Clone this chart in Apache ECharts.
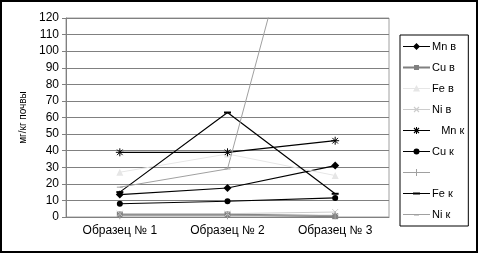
<!DOCTYPE html>
<html>
<head>
<meta charset="utf-8">
<script src="https://cdn.jsdelivr.net/npm/echarts@6/dist/echarts.min.js"></script>
<style>
  html, body { margin: 0; padding: 0; background: #fff; }
  #chart { width: 478px; height: 253px; box-sizing: border-box; border: 2px solid #000; }
</style>
</head>
<body>
<div id="chart"></div>
<script>
// Категории (образцы)
const kategorii = ['Образец № 1', 'Образец № 2', 'Образец № 3'];

// Значения, мг/кг почвы
const mnV = [13.5, 17.5, 31];
const cuV = [1.5, 1.5, 0.5];
const feV = [27, 38, 25];
const niV = [2, 2, 3];
const mnK = [39, 39, 46];
const cuK = [8, 9.5, 11.5];
const bezImeni = [1, 1, 1];
const feK = [15, 63, 14];
const niK = [18, 29, 270];

const chart = echarts.init(document.getElementById('chart'));

// Функция для описания одной линии
function linia(name, data, color, symbol, size, width) {
    return {
        name: name,
        type: 'line',
        data: data,
        symbol: symbol,
        symbolSize: size,
        showSymbol: true,
        clip: true,
        lineStyle: { color: color, width: width || 1 },
        itemStyle: { color: color, borderColor: color, borderWidth: symbol.indexOf('path') === 0 ? 1 : 0 },
        emphasis: { disabled: true },
        z: 3
    };
}

// Иконки легенды: линия + маркер, всё залитыми фигурами (27 x 8)
const ramka = 'M0,0 L0,0 Z M27,8 L27,8 Z ';
const liniya = 'M0,3.5 H27 V4.5 H0 Z ';
const liniyaTolst = 'M0,3 H27 V5 H0 Z ';
const diag1 = 'M10.6,1.9 L11.4,1.1 L16.4,6.1 L15.6,6.9 Z ';
const diag2 = 'M15.6,1.1 L16.4,1.9 L11.4,6.9 L10.6,6.1 Z ';
function ikonka(telo) { return 'path://' + ramka + telo; }

const legendaIkonki = {
    'Mn в': ikonka(liniya + 'M13.5,0.5 L17,4 L13.5,7.5 L10,4 Z'),
    'Cu в': ikonka(liniyaTolst + 'M11,1.5 H16 V6.5 H11 Z'),
    'Fe в': ikonka(liniya + 'M13.5,0.5 L17,7 L10,7 Z'),
    'Ni в': ikonka(liniya + diag1 + diag2),
    '   Mn к': ikonka(liniya + 'M13,0.5 H14 V7.5 H13 Z ' + diag1 + diag2),
    'Cu к': ikonka(liniya + 'M16.5,4 A3,3 0 1 1 10.5,4 A3,3 0 1 1 16.5,4 Z'),
    ' ': ikonka(liniya + 'M13,0.5 H14 V7.5 H13 Z'),
    'Fe к': ikonka(liniya + 'M10,3 H17 V5 H10 Z'),
    'Ni к': ikonka(liniya + 'M11,3.5 H16 V5 H11 Z')
};

chart.setOption({
    animation: false,
    textStyle: { fontFamily: 'Liberation Sans, Arial, sans-serif' },
    grid: { left: 64, top: 16, right: 87, bottom: 34, show: true, borderColor: '#a0a0a0', borderWidth: 1 },
    legend: {
        orient: 'vertical',
        left: 398,
        top: 33,
        itemWidth: 27,
        itemHeight: 8,
        itemGap: 10,
        padding: [6, 4, 6, 3],
        borderColor: '#000',
        borderWidth: 1,
        textStyle: { fontSize: 11, color: '#000', padding: [0, 0, 0, -3] },
        data: Object.keys(legendaIkonki).map(function(n) {
            return { name: n, icon: legendaIkonki[n], itemStyle: { borderWidth: 0 } };
        })
    },
    xAxis: {
        type: 'category',
        data: kategorii,
        boundaryGap: true,
        axisLine: { lineStyle: { color: '#808080' } },
        axisTick: { length: 4, lineStyle: { color: '#808080' } },
        axisLabel: { color: '#000', fontSize: 12, margin: 8 }
    },
    yAxis: {
        type: 'value',
        min: 0,
        max: 120,
        interval: 10,
        name: 'мг/кг почвы',
        nameLocation: 'middle',
        nameRotate: 90,
        nameGap: 38,
        nameTextStyle: { fontSize: 10, color: '#000' },
        axisLine: { show: true, lineStyle: { color: '#808080' } },
        axisTick: { show: true, length: 4, lineStyle: { color: '#808080' } },
        axisLabel: { color: '#000', fontSize: 12, margin: 7 },
        splitLine: { lineStyle: { color: '#808080', width: 1 } }
    },
    series: [
        linia('Mn в', mnV, '#000', 'diamond', 8, 1.2),
        linia('Cu в', cuV, '#808080', 'rect', 6, 2),
        linia('Fe в', feV, '#e6e6e6', 'triangle', 7, 1),
        linia('Ni в', niV, '#cccccc', 'path://M0,0 L10,10 M10,0 L0,10', 6, 1),
        linia('   Mn к', mnK, '#000', 'path://M0,5 L10,5 M5,0 L5,10 M1.5,1.5 L8.5,8.5 M8.5,1.5 L1.5,8.5', 8, 1.2),
        linia('Cu к', cuK, '#000', 'circle', 6, 1.2),
        linia(' ', bezImeni, '#a0a0a0', 'rect', [1, 8], 1),
        linia('Fe к', feK, '#000', 'rect', [7, 2], 1.2),
        linia('Ni к', niK, '#a0a0a0', 'rect', [6, 1], 1)
    ]
});

window.addEventListener('resize', function() {
    chart.resize();
});
</script>
</body>
</html>
